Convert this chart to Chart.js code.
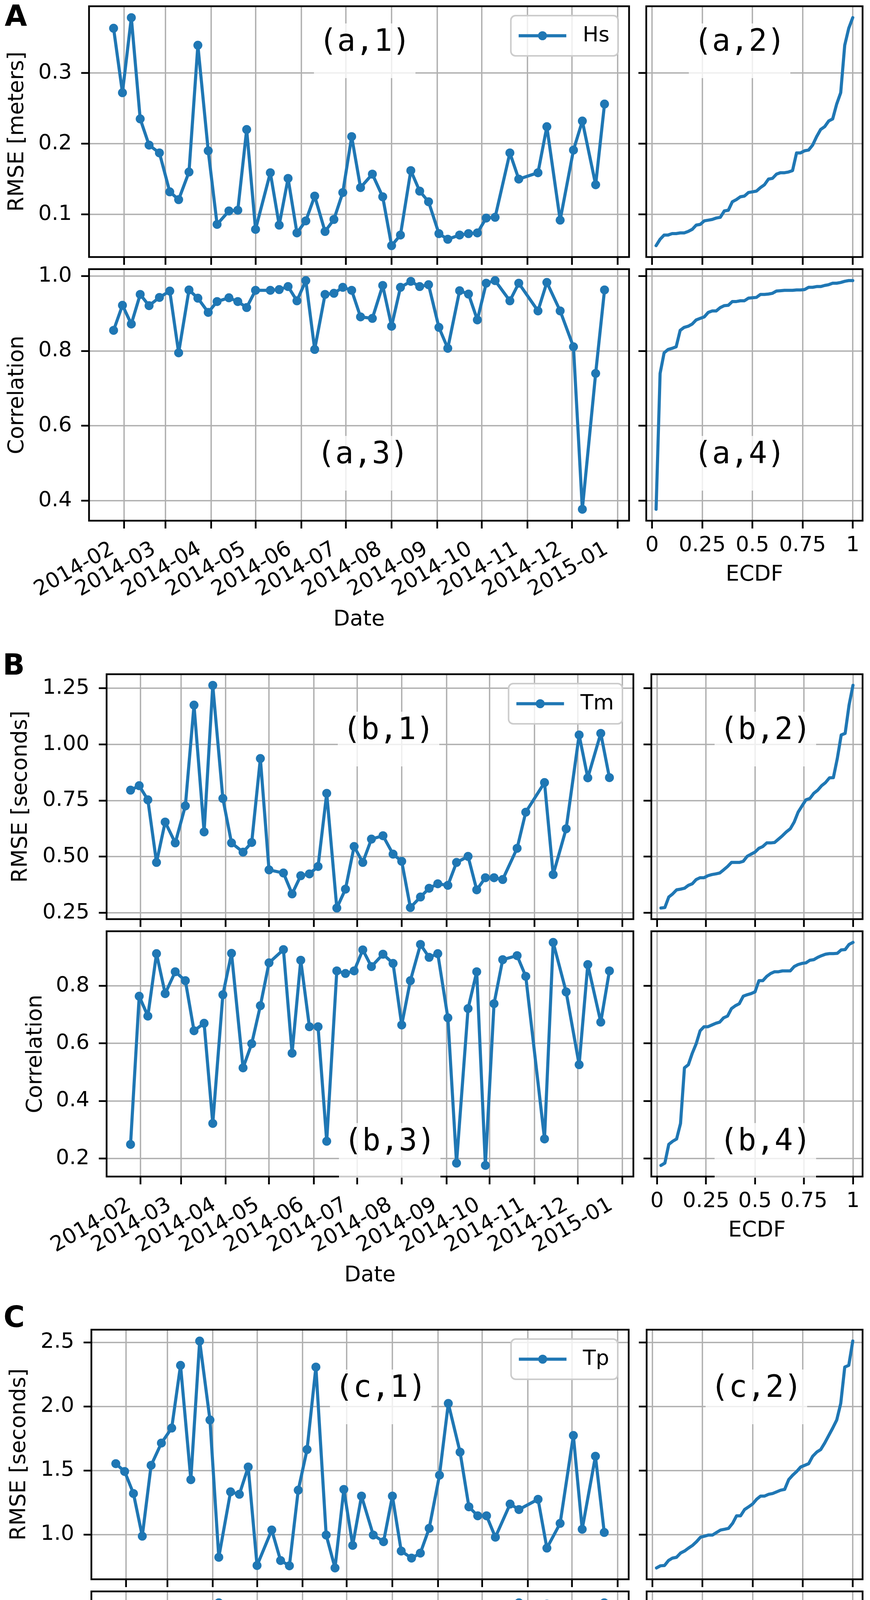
<!DOCTYPE html>
<html>
<head>
<meta charset="utf-8">
<script src="https://cdn.jsdelivr.net/npm/chart.js@4.4.1/dist/chart.umd.min.js"></script>
<style>
html,body{margin:0;padding:0;background:#fff;}
#fig{position:relative;width:2228px;height:5000px;background:#fff;overflow:hidden;}
#fig canvas{position:absolute;}
.grp{position:absolute;font-family:"DejaVu Sans";font-weight:bold;font-size:74px;line-height:74px;color:#000;}
</style>
</head>
<body>
<div id="fig"></div>
<script>
// ---------------- DATA ----------------
const dates = ['2014-01-25','2014-01-31','2014-02-06','2014-02-12','2014-02-18','2014-02-25','2014-03-04','2014-03-10','2014-03-17','2014-03-23',
  '2014-03-30','2014-04-05','2014-04-13','2014-04-19','2014-04-25','2014-05-01','2014-05-11','2014-05-17','2014-05-23','2014-05-29',
  '2014-06-04','2014-06-10','2014-06-17','2014-06-23','2014-06-29','2014-07-05','2014-07-11','2014-07-19','2014-07-26','2014-08-01',
  '2014-08-07','2014-08-14','2014-08-20','2014-08-26','2014-09-02','2014-09-08','2014-09-16','2014-09-22','2014-09-28','2014-10-04',
  '2014-10-10','2014-10-20','2014-10-26','2014-11-08','2014-11-14','2014-11-23','2014-12-02','2014-12-08','2014-12-17','2014-12-23'];
const monthTickLabels = ['2014-02','2014-03','2014-04','2014-05','2014-06','2014-07','2014-08','2014-09','2014-10','2014-11','2014-12','2015-01'];
const ecdfTickValues = [0, 0.25, 0.5, 0.75, 1];
const ecdfTickLabels = ['0', '0.25', '0.5', '0.75', '1'];

const hsRmse = [0.363,0.272,0.378,0.235,0.198,0.187,0.132,0.121,0.160,0.339,0.190,0.086,0.105,0.106,0.220,0.079,0.159,0.085,0.151,0.074,
  0.091,0.126,0.076,0.093,0.131,0.210,0.138,0.157,0.125,0.056,0.071,0.162,0.133,0.118,0.073,0.065,0.071,0.073,0.074,0.095,
  0.096,0.187,0.150,0.159,0.224,0.092,0.191,0.232,0.142,0.256];
const hsCorr = [0.855,0.922,0.872,0.951,0.921,0.943,0.960,0.795,0.963,0.941,0.903,0.932,0.942,0.932,0.916,0.962,0.962,0.964,0.972,0.934,
  0.988,0.804,0.951,0.954,0.970,0.962,0.891,0.887,0.975,0.866,0.970,0.986,0.972,0.977,0.863,0.807,0.961,0.952,0.883,0.981,
  0.988,0.934,0.981,0.907,0.983,0.907,0.811,0.377,0.740,0.963];
const tmRmse = [0.796,0.816,0.753,0.474,0.654,0.561,0.726,1.175,0.610,1.263,0.759,0.561,0.520,0.563,0.937,0.441,0.427,0.334,0.415,0.423,
  0.456,0.782,0.271,0.355,0.545,0.474,0.578,0.593,0.511,0.479,0.273,0.320,0.359,0.379,0.372,0.474,0.501,0.352,0.406,0.406,
  0.398,0.537,0.698,0.830,0.420,0.624,1.042,0.851,1.049,0.852];
const tmCorr = [0.249,0.764,0.695,0.912,0.773,0.849,0.818,0.644,0.670,0.322,0.769,0.913,0.515,0.599,0.731,0.880,0.926,0.566,0.889,0.658,
  0.658,0.260,0.852,0.843,0.852,0.925,0.867,0.910,0.878,0.664,0.818,0.944,0.899,0.912,0.689,0.184,0.721,0.849,0.176,0.738,
  0.891,0.905,0.833,0.268,0.951,0.779,0.526,0.874,0.674,0.852];
const tpRmse = [1.553,1.492,1.320,0.987,1.540,1.714,1.831,2.320,1.428,2.510,1.894,0.822,1.333,1.314,1.527,0.758,1.035,0.797,0.756,1.346,
  1.663,2.307,0.996,0.739,1.352,0.915,1.300,0.996,0.944,1.300,0.871,0.816,0.855,1.048,1.463,2.023,1.643,1.216,1.146,1.146,
  0.979,1.238,1.195,1.275,0.894,1.087,1.773,1.041,1.611,1.016];
const tpCorr = [0.384,0.624,0.587,0.763,0.664,0.555,0.755,0.606,0.575,0.127,0.530,0.890,0.386,0.606,0.447,0.790,0.815,0.387,0.825,0.540,
  0.218,0.113,0.510,0.782,0.590,0.854,0.799,0.866,0.831,0.569,0.603,0.765,0.533,0.721,0.568,0.003,0.497,0.721,0.395,0.660,
  0.722,0.851,0.890,0.562,0.885,0.494,0.530,0.882,0.633,0.890];

const hsRmseTicks = [0.1, 0.2, 0.3];              const hsRmseTickLabels = ['0.1','0.2','0.3'];
const hsCorrTicks = [0.4, 0.6, 0.8, 1.0];         const hsCorrTickLabels = ['0.4','0.6','0.8','1.0'];
const tmRmseTicks = [0.25, 0.5, 0.75, 1.0, 1.25]; const tmRmseTickLabels = ['0.25','0.50','0.75','1.00','1.25'];
const tmCorrTicks = [0.2, 0.4, 0.6, 0.8];         const tmCorrTickLabels = ['0.2','0.4','0.6','0.8'];
const tpRmseTicks = [1.0, 1.5, 2.0, 2.5];         const tpRmseTickLabels = ['1.0','1.5','2.0','2.5'];
const tpCorrTicks = [0.0, 0.2, 0.4, 0.6, 0.8];    const tpCorrTickLabels = ['0.0','0.2','0.4','0.6','0.8'];

// ---------------- HELPERS ----------------
const DAY = 86400000;
function toDay(s){ const p = s.split('-').map(Number); return (Date.UTC(p[0], p[1]-1, p[2]||1) - Date.UTC(2014,0,1))/DAY + 1; }
const xDays = dates.map(toDay);
const monthTicks = monthTickLabels.map(toDay);
function lims(arr){ const mn = Math.min(...arr), mx = Math.max(...arr), r = mx - mn; return [mn - 0.05*r, mx + 0.05*r]; }

Chart.defaults.font.family = "'DejaVu Sans'";
Chart.defaults.color = '#000';
const BLUE = '#1f77b4';
const PADT = 70, PADR = 45;
const TICKFONT = 54, TITLEFONT = 55;
const fig = document.getElementById('fig');

const framePlugin = {
  id: 'frame',
  afterDraw(chart, args, o){
    const ctx = chart.ctx, ca = chart.chartArea;
    ctx.save();
    ctx.strokeStyle = '#000'; ctx.lineWidth = 4.5;
    ctx.strokeRect(ca.left, ca.top, ca.right - ca.left, ca.bottom - ca.top);
    if (o.label){
      const cx = o.label.x - o.ox, cy = o.label.y - o.oy;
      ctx.fillStyle = 'rgba(255,255,255,0.8)';
      ctx.fillRect(cx - 130, cy - 50, 260, 140);
      ctx.fillStyle = '#000';
      ctx.font = '78px "DejaVu Sans Mono"';
      ctx.textAlign = 'center'; ctx.textBaseline = 'middle';
      ctx.fillText(o.label.t, cx, cy);
    }
    if (o.legend){
      ctx.font = TICKFONT + 'px "DejaVu Sans"';
      const text = chart.data.datasets[0].label;
      const tw = ctx.measureText(text).width;
      const right = ca.right - 28, top = ca.top + 24, h = 103;
      const w = 20 + 122 + 42 + tw + 22, left = right - w, r = 12;
      ctx.beginPath();
      ctx.moveTo(left + r, top); ctx.lineTo(right - r, top); ctx.arcTo(right, top, right, top + r, r);
      ctx.lineTo(right, top + h - r); ctx.arcTo(right, top + h, right - r, top + h, r);
      ctx.lineTo(left + r, top + h); ctx.arcTo(left, top + h, left, top + h - r, r);
      ctx.lineTo(left, top + r); ctx.arcTo(left, top, left + r, top, r); ctx.closePath();
      ctx.fillStyle = 'rgba(255,255,255,0.8)'; ctx.fill();
      ctx.strokeStyle = '#cccccc'; ctx.lineWidth = 4; ctx.stroke();
      const my = top + h/2;
      ctx.strokeStyle = BLUE; ctx.lineWidth = 8;
      ctx.beginPath(); ctx.moveTo(left + 20, my); ctx.lineTo(left + 142, my); ctx.stroke();
      ctx.fillStyle = BLUE; ctx.beginPath(); ctx.arc(left + 81, my, 11.5, 0, Math.PI*2); ctx.fill();
      ctx.fillStyle = '#000'; ctx.textAlign = 'left'; ctx.textBaseline = 'middle';
      ctx.fillText(text, left + 184, my);
    }
    ctx.restore();
  }
};

function panel(s){
  const y0 = s.T - PADT, x1 = s.R + PADR;
  const W = Math.round(x1 - s.x0), H = Math.round(s.y1 - y0);
  const cv = document.createElement('canvas');
  cv.width = W; cv.height = H;
  cv.style.left = s.x0 + 'px'; cv.style.top = y0 + 'px'; cv.style.width = W + 'px'; cv.style.height = H + 'px';
  fig.appendChild(cv);
  const yl = lims(s.values);
  let data, xl, xTickVals, xTickLabels, rot, xpad, xoff;
  if (s.kind === 'ts'){
    data = xDays.map((x, i) => ({x: x, y: s.values[i]}));
    xl = lims(xDays); xTickVals = monthTicks; xTickLabels = monthTickLabels; rot = 30; xpad = 21; xoff = -29;
  } else {
    const srt = [...s.values].sort((a, b) => a - b); const N = srt.length;
    data = srt.map((y, i) => ({x: (i + 1)/N, y: y}));
    xl = lims([1/N, 1]); xTickVals = ecdfTickValues; xTickLabels = ecdfTickLabels; rot = 0; xpad = 12; xoff = 0;
  }
  const grid = {color: '#b0b0b0', lineWidth: 3.5, drawTicks: true, tickLength: 20, tickColor: '#000', tickWidth: 4.5};
  new Chart(cv, {
    type: 'line',
    data: {datasets: [{
      label: s.name, data: data, borderColor: BLUE, backgroundColor: BLUE, borderWidth: 8,
      borderJoinStyle: 'round', borderCapStyle: 'round',
      pointRadius: s.kind === 'ts' ? 11.5 : 0, pointBorderWidth: 0, pointBackgroundColor: BLUE, tension: 0, fill: false
    }]},
    options: {
      responsive: false, animation: false, devicePixelRatio: 1, events: [],
      layout: {padding: {top: PADT, right: PADR, left: 0, bottom: 0}},
      plugins: {legend: {display: false}, tooltip: {enabled: false},
        frame: {ox: s.x0, oy: y0, label: s.label, legend: !!s.legend}},
      scales: {
        x: {
          type: 'linear', min: xl[0], max: xl[1], bounds: 'data',
          afterBuildTicks: sc => { sc.ticks = xTickVals.map(v => ({value: v})); },
          afterFit: sc => { sc.height = s.y1 - s.B; },
          grid: grid, border: {display: false},
          ticks: {display: !!s.xShow, autoSkip: false, minRotation: rot, maxRotation: rot, padding: xpad, labelOffset: xoff,
            color: '#000', font: {size: TICKFONT}, callback: (v, i) => xTickLabels[i]},
          title: {display: !!s.xTitle, text: s.xTitle || '', color: '#000', font: {size: TITLEFONT, lineHeight: 1.2}, padding: 0}
        },
        y: {
          type: 'linear', min: yl[0], max: yl[1], bounds: 'data',
          afterBuildTicks: sc => { sc.ticks = s.yTicks.map(v => ({value: v})); },
          afterFit: sc => { sc.width = s.L - s.x0; },
          grid: grid, border: {display: false},
          ticks: {display: s.kind === 'ts', autoSkip: false, padding: 24, color: '#000', font: {size: TICKFONT},
            callback: (v, i) => s.yTickLabels[i]},
          title: {display: !!s.yTitle, text: s.yTitle || '', color: '#000', font: {size: TITLEFONT, lineHeight: 1.2}, padding: 0}
        }
      }
    },
    plugins: [framePlugin]
  });
}

// ---------------- LAYOUT ----------------
const groups = [
  {letter: 'A', lx: 12, lbase: 66, name: 'Hs', rmseTitle: 'RMSE [meters]',
   rmse: hsRmse, corr: hsCorr, rT: hsRmseTicks, rTL: hsRmseTickLabels, cT: hsCorrTicks, cTL: hsCorrTickLabels,
   tsL: 228, tsR: 1611, ecL: 1655, ecR: 2209, t1: 16, b1: 658, t2: 689, b2: 1333,
   rTitleX: 45, cTitleX: 45, dateY: 1587, ecdfY: 1472, tag: 'a',
   lab: {x1: 934, y1: 110, x3: 929, y3: 1166, x2: 1894}},
  {letter: 'B', lx: 7, lbase: 1727, name: 'Tm', rmseTitle: 'RMSE [seconds]',
   rmse: tmRmse, corr: tmCorr, rT: tmRmseTicks, rTL: tmRmseTickLabels, cT: tmCorrTicks, cTL: tmCorrTickLabels,
   tsL: 273, tsR: 1622, ecL: 1668, ecR: 2209, t1: 1726, b1: 2353, t2: 2384, b2: 3012,
   rTitleX: 54, cTitleX: 92, dateY: 3266, ecdfY: 3151, tag: 'b',
   lab: {x1: 995, y1: 1872, x3: 998, y3: 2925, x2: 1960}},
  {letter: 'C', lx: 9, lbase: 3397, name: 'Tp', rmseTitle: 'RMSE [seconds]',
   rmse: tpRmse, corr: tpCorr, rT: tpRmseTicks, rTL: tpRmseTickLabels, cT: tpCorrTicks, cTL: tpCorrTickLabels,
   tsL: 234, tsR: 1610, ecL: 1656, ecR: 2209, t1: 3404, b1: 4043, t2: 4074, b2: 4715,
   rTitleX: 50, cTitleX: 49, dateY: 4972, ecdfY: 4857, tag: 'c',
   lab: {x1: 975, y1: 3556, x3: 975, y3: 4616, x2: 1937}}
];

const HALF_TITLE = TITLEFONT * 1.2 / 2;
groups.forEach(g => {
  const d = document.createElement('div');
  d.className = 'grp'; d.textContent = g.letter;
  d.style.left = g.lx + 'px'; d.style.top = (g.lbase - 63) + 'px';
  fig.appendChild(d);
  // RMSE time series
  panel({kind: 'ts', name: g.name, L: g.tsL, R: g.tsR, T: g.t1, B: g.b1, x0: g.rTitleX - HALF_TITLE, y1: g.b1 + 70,
    values: g.rmse, yTicks: g.rT, yTickLabels: g.rTL, yTitle: g.rmseTitle, xShow: false, legend: true,
    label: {t: '(' + g.tag + ',1)', x: g.lab.x1, y: g.lab.y1}});
  // RMSE ECDF
  panel({kind: 'ecdf', name: g.name, L: g.ecL, R: g.ecR, T: g.t1, B: g.b1, x0: g.ecL - 40, y1: g.b1 + 70,
    values: g.rmse, yTicks: g.rT, yTickLabels: g.rTL, xShow: false,
    label: {t: '(' + g.tag + ',2)', x: g.lab.x2, y: g.lab.y1}});
  // Correlation time series
  panel({kind: 'ts', name: g.name, L: g.tsL, R: g.tsR, T: g.t2, B: g.b2, x0: g.cTitleX - HALF_TITLE, y1: g.dateY + HALF_TITLE,
    values: g.corr, yTicks: g.cT, yTickLabels: g.cTL, yTitle: 'Correlation', xShow: true, xTitle: 'Date',
    label: {t: '(' + g.tag + ',3)', x: g.lab.x3, y: g.lab.y3}});
  // Correlation ECDF
  panel({kind: 'ecdf', name: g.name, L: g.ecL, R: g.ecR, T: g.t2, B: g.b2, x0: g.ecL - 40, y1: g.ecdfY + HALF_TITLE,
    values: g.corr, yTicks: g.cT, yTickLabels: g.cTL, xShow: true, xTitle: 'ECDF',
    label: {t: '(' + g.tag + ',4)', x: g.lab.x2, y: g.lab.y3}});
});
</script>
</body>
</html>
